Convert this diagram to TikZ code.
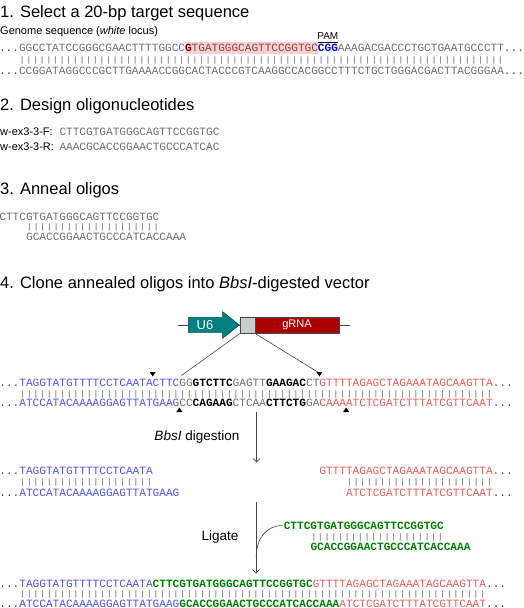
\documentclass[tikz,border=0pt]{standalone}
\usepackage{fontspec}
\usepackage{graphicx}
\setmainfont{Liberation Sans}
\newfontfamily\seqfont{Liberation Mono}
\usetikzlibrary{arrows.meta}
\definecolor{seqgray}{RGB}{110,110,110}
\definecolor{dotgray}{RGB}{70,70,70}
\definecolor{pipegray}{RGB}{130,130,130}
\definecolor{sblue}{RGB}{80,80,240}
\definecolor{sred}{RGB}{240,90,90}
\definecolor{sgreen}{RGB}{0,128,0}
\definecolor{pamblue}{RGB}{0,0,255}
\definecolor{hltext}{RGB}{150,60,60}
\definecolor{hlbold}{RGB}{110,0,0}
\definecolor{pink}{RGB}{248,210,210}
\definecolor{teal}{RGB}{0,128,128}
\definecolor{tealdark}{RGB}{0,80,80}
\definecolor{boxred}{RGB}{170,0,0}
\definecolor{boxgray}{RGB}{204,204,204}
\definecolor{arrgray}{RGB}{70,70,70}
\newcommand\pipes[1]{\scalebox{1}[0.72]{\foreach \k in {1,...,#1}{|}}}
\newcommand\dd{\textcolor{dotgray}{...}}
\tikzset{
  seq/.style={font=\seqfont\fontsize{11.11}{13}\selectfont, inner sep=0pt, outer sep=0pt, anchor=base west, text=seqgray},
  seqa/.style={seq, font=\seqfont\fontsize{11.07}{13}\selectfont},
  pipe/.style={seq, text=pipegray},
  pipea/.style={seqa, text=pipegray},
  head/.style={font=\fontsize{16.5}{19}\selectfont, inner sep=0pt, anchor=base west},
  lab/.style={font=\fontsize{11}{13}\selectfont, inner sep=0pt, anchor=base west},
  biglab/.style={font=\fontsize{13.5}{15}\selectfont, inner sep=0pt, anchor=base east},
  arr/.style={draw=arrgray, line width=0.7pt, -{Straight Barb[length=3.5pt,width=7pt]}},
  conn/.style={draw=arrgray, line width=0.6pt},
  tri/.style={fill=black},
}
\begin{document}
\begin{tikzpicture}[x=1pt,y=-1pt]
\useasboundingbox (0,0) rectangle (524,608);
% ---------- 1
\node[head] (h1) at (0,17) {1. Select a 20-bp target sequence};
\node[lab] (glab) at (0,34) {Genome sequence (\textit{white} locus)};
\fill[pink] (185.1,41.8) rectangle (317.9,53.5);
\node[lab, font=\fontsize{10}{12}\selectfont, anchor=base] (pam) at (327.8,39.3) {PAM};
\draw[black, line width=0.6pt] (317.9,42.5) -- (337.8,42.5);
\node[seqa] (s1t) at (-0.9,51) {\dd GGCCTATCCGGGCGAACTTTTGGCC\textcolor{hltext}{\textcolor{hlbold}{\textbf{G}}TGATGGGCAGTTCCGGTGC}\textcolor{pamblue}{\textbf{CGG}}AAAGACGACCCTGCTGAATGCCCTT\dd};
\node[pipea] (s1p) at (19.0,62) {\pipes{73}};
\node[seqa] (s1b) at (-0.9,74.5) {\dd CCGGATAGGCCCGCTTGAAAACCGGCACTACCCGTCAAGGCCACGGCCTTTCTGCTGGGACGACTTACGGGAA\dd};
% ---------- 2
\node[head] (h2) at (0,110) {2. Design oligonucleotides};
\node[lab] (fl) at (0,135) {w-ex3-3-F:};
\node[seq] (fs) at (59.5,135) {CTTCGTGATGGGCAGTTCCGGTGC};
\node[lab] (rl) at (0,150.5) {w-ex3-3-R:};
\node[seq] (rs) at (59.5,150.5) {AAACGCACCGGAACTGCCCATCAC};
% ---------- 3
\node[head] (h3) at (0,194) {3. Anneal oligos};
\node[seq] (at) at (-0.6,220.2) {CTTCGTGATGGGCAGTTCCGGTGC};
\node[pipe] (ap) at (26.1,229.4) {\pipes{20}};
\node[seq] (ab) at (26.1,240.2) {GCACCGGAACTGCCCATCACCAAA};
% ---------- 4
\node[head] (h4) at (0,288) {4. Clone annealed oligos into \textit{BbsI}-digested vector};
\draw[conn] (178.3,325) -- (350,325);
\draw[fill=teal, draw=tealdark, line width=0.6pt] (188.3,317.3) -- (222.7,317.3) -- (222.7,311.7) -- (239.3,325) -- (222.7,338.3) -- (222.7,332.3) -- (188.3,332.3) -- cycle;
\node[text=white, font=\fontsize{13}{15}\selectfont, inner sep=0pt] (u6) at (205,325.3) {U6};
\node[draw=arrgray, fill=boxgray, line width=0.6pt, minimum width=15pt, minimum height=16pt, inner sep=0pt] (mcs) at (247.5,325.3) {};
\node[draw=arrgray, fill=boxred, line width=0.6pt, minimum width=84pt, minimum height=16pt, inner sep=0pt, text=white, font=\fontsize{11}{13}\selectfont] (grna) at (297,325.3) {gRNA};
\coordinate (lend) at (181.5,375.5);
\coordinate (rend) at (318.5,372.5);
\draw[conn] (mcs.south west) -- (lend);
\draw[conn] (mcs.south east) -- (rend);
\fill[tri] (149.7,372) -- (155.7,372) -- (152.7,376.5) -- cycle;
\fill[tri] (316.4,372) -- (322.4,372) -- (319.4,376.5) -- cycle;
\fill[tri] (176.4,412) -- (182.4,412) -- (179.4,407.5) -- cycle;
\fill[tri] (343.1,412) -- (349.1,412) -- (346.1,407.5) -- cycle;
\node[seq] (vt) at (-0.6,386.2) {\dd\textcolor{sblue}{TAGGTATGTTTTCCTCAATACTTC}GG\textcolor{black}{\textbf{GTCTTC}}GAGTT\textcolor{black}{\textbf{GAAGAC}}CT\textcolor{sred}{GTTTTAGAGCTAGAAATAGCAAGTTA}\dd};
\node[pipe] (vp) at (19.4,396) {\pipes{71}};
\node[seq] (vb) at (-0.6,406.8) {\dd\textcolor{sblue}{ATCCATACAAAAGGAGTTATGAAG}CC\textcolor{black}{\textbf{CAGAAG}}CTCAA\textcolor{black}{\textbf{CTTCTG}}GA\textcolor{sred}{CAAAATCTCGATCTTTATCGTTCAAT}\dd};
% digestion
\coordinate (d1) at (256.7,412);
\coordinate (d2) at (256.7,462.5);
\draw[arr] (d1) -- (d2);
\node[biglab] (dig) at (239.5,440) {\textit{BbsI} digestion};
\node[seq] (lt) at (-0.6,474.5) {\dd\textcolor{sblue}{TAGGTATGTTTTCCTCAATA}};
\node[pipe] (lp) at (19.4,484.4) {\pipes{20}};
\node[seq] (lb) at (-0.6,496.5) {\dd\textcolor{sblue}{ATCCATACAAAAGGAGTTATGAAG}};
\node[seq] (rt) at (319.4,474.5) {\textcolor{sred}{GTTTTAGAGCTAGAAATAGCAAGTTA}\dd};
\node[pipe] (rp) at (346.1,484.4) {\pipes{22}};
\node[seq] (rb) at (346.1,496.5) {\textcolor{sred}{ATCTCGATCTTTATCGTTCAAT}\dd};
% ligate
\coordinate (l1) at (256,501.5);
\coordinate (l2) at (256,573.5);
\draw[arr] (l1) -- (l2);
\node[biglab] (lig) at (238.5,540) {Ligate};
\node[seq, text=sgreen, font=\seqfont\bfseries\fontsize{11.11}{13}\selectfont] (gt) at (283.8,529.2) {CTTCGTGATGGGCAGTTCCGGTGC};
\node[pipe] (gp) at (310.5,539.4) {\pipes{20}};
\node[seq, text=sgreen, font=\seqfont\bfseries\fontsize{11.11}{13}\selectfont] (gb) at (310.5,550.2) {GCACCGGAACTGCCCATCACCAAA};
\coordinate (gstart) at (282.3,525.5);
\coordinate (gjoin) at (256.2,557);
\draw[conn] (gstart) .. controls (266,526) and (256.6,538) .. (gjoin);
% final
\node[seq] (ft) at (-0.6,587) {\dd\textcolor{sblue}{TAGGTATGTTTTCCTCAATA}\textcolor{sgreen}{\textbf{CTTCGTGATGGGCAGTTCCGGTGC}}\textcolor{sred}{GTTTTAGAGCTAGAAATAGCAAGTTA}\dd};
\node[pipe] (fp) at (19.4,596.2) {\pipes{70}};
\node[seq] (fb) at (-0.6,607) {\dd\textcolor{sblue}{ATCCATACAAAAGGAGTTATGAAG}\textcolor{sgreen}{\textbf{GCACCGGAACTGCCCATCACCAAA}}\textcolor{sred}{ATCTCGATCTTTATCGTTCAAT}\dd};
\end{tikzpicture}
\end{document}
